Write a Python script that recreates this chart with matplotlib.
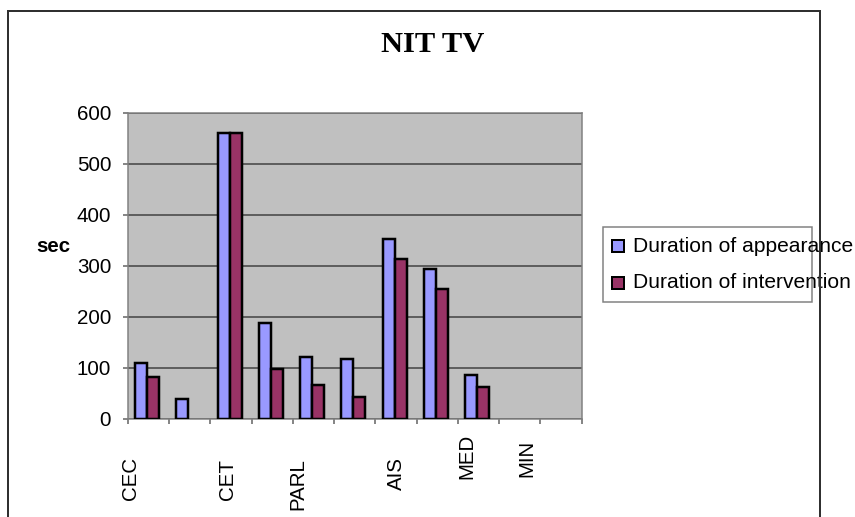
import matplotlib
matplotlib.use("Agg")
import matplotlib.pyplot as plt
from matplotlib.patches import Rectangle
import numpy as np

# ---- data ----
n_categories = 11
appearance = [110, 39, 561, 189, 122, 118, 353, 294, 87, 0, 0]
intervention = [83, 0, 561, 98, 67, 44, 314, 255, 63, 0, 0]
series_names = ["Duration of appearance", "Duration of intervention"]
tick_labels = ["CEC", "CET", "PARL", "AIS", "MED", "MIN"]
y_ticks = [0, 100, 200, 300, 400, 500, 600]
title = "NIT TV"
y_label = "sec"

# ---- layout / style ----
W, H = 855, 517
DPI = 100
PT = 72.0 / DPI  # points per pixel
label_x = [-0.44, 1.91, 3.63, 6.0, 7.72, 9.18]          # data x of rotated labels
label_y = [478, 479, 484.5, 474, 456.5, 458.5]           # pixel y centres
blue, red = "#9999FF", "#993366"
plot_bg = "#C0C0C0"

plt.rcParams["font.family"] = ["Liberation Sans", "DejaVu Sans"]

fig = plt.figure(figsize=(W / DPI, H / DPI), dpi=DPI)
fig.patch.set_facecolor("white")

ax_l, ax_r, ax_t, ax_b = 127.7, 581.7, 112.7, 419.0
ax = fig.add_axes([ax_l / W, 1 - ax_b / H, (ax_r - ax_l) / W, (ax_b - ax_t) / H])
ax.set_facecolor(plot_bg)

x = np.arange(n_categories)
bw = 0.29
b1 = ax.bar(x - bw / 2 - 0.03, appearance, width=bw, color=blue, edgecolor="black",
            linewidth=2.5 * PT, zorder=3)
b2 = ax.bar(x + bw / 2 - 0.03, intervention, width=bw, color=red, edgecolor="black",
            linewidth=2.5 * PT, zorder=3)
for p in list(b1) + list(b2):
    if p.get_height() == 0:
        p.set_visible(False)

ax.set_xlim(-0.5, n_categories - 0.5)
ax.set_ylim(0, 600)
ax.set_yticks(y_ticks)
ax.set_yticklabels([str(v) for v in y_ticks], fontsize=20.5 * PT)
ax.yaxis.grid(True, color="#404040", linewidth=1.5 * PT, zorder=1)
ax.set_axisbelow(True)
ax.tick_params(axis="y", direction="out", length=5 * PT, width=1.5 * PT,
               color="#606060", pad=11.5 * PT)
ax.set_xticks(np.arange(n_categories + 1) - 0.5)
ax.set_xticklabels([])
ax.tick_params(axis="x", direction="out", length=5 * PT, width=1.5 * PT, color="#606060")
for s in ax.spines.values():
    s.set_color("#808080")
    s.set_linewidth(1.5 * PT)

ax_h = ax_b - ax_t
trans = ax.get_xaxis_transform()
for lx, ly, lab in zip(label_x, label_y, tick_labels):
    ax.text(lx, (ax_b - ly) / ax_h, lab, transform=trans, rotation=90,
            ha="center", va="center", fontsize=20.5 * PT, clip_on=False)

# y label
fig.text(36 / W, 1 - 247 / H, y_label, ha="left", va="center",
         fontsize=20.5 * PT, fontweight="bold")

# title
fig.text(433 / W, 1 - 45 / H, title, ha="center", va="center",
         fontsize=30.5 * PT, fontweight="bold", family=["Liberation Serif", "DejaVu Serif"])

# outer frame
fig.patches.append(Rectangle((8 / W, -0.05), (820 - 8) / W, (1 - 11 / H) + 0.05,
                             transform=fig.transFigure, fill=False,
                             edgecolor="#303030", linewidth=2 * PT, zorder=10))

# legend (manual, box narrower than text as in reference)
fig.patches.append(Rectangle((603 / W, 1 - 302 / H), (812 - 603) / W, (302 - 227) / H,
                             transform=fig.transFigure, fill=True, facecolor="white",
                             edgecolor="#808080", linewidth=1.5 * PT, zorder=5))
for i, (name, col) in enumerate(zip(series_names, [blue, red])):
    yc = 246 + i * 37
    fig.patches.append(Rectangle((612 / W, 1 - (yc + 6) / H), 12 / W, 12 / H,
                                 transform=fig.transFigure, facecolor=col,
                                 edgecolor="black", linewidth=2 * PT, zorder=6))
    fig.text(633 / W, 1 - yc / H, name, ha="left", va="center",
             fontsize=21 * PT, zorder=7)

fig.savefig("out.png", dpi=DPI)
